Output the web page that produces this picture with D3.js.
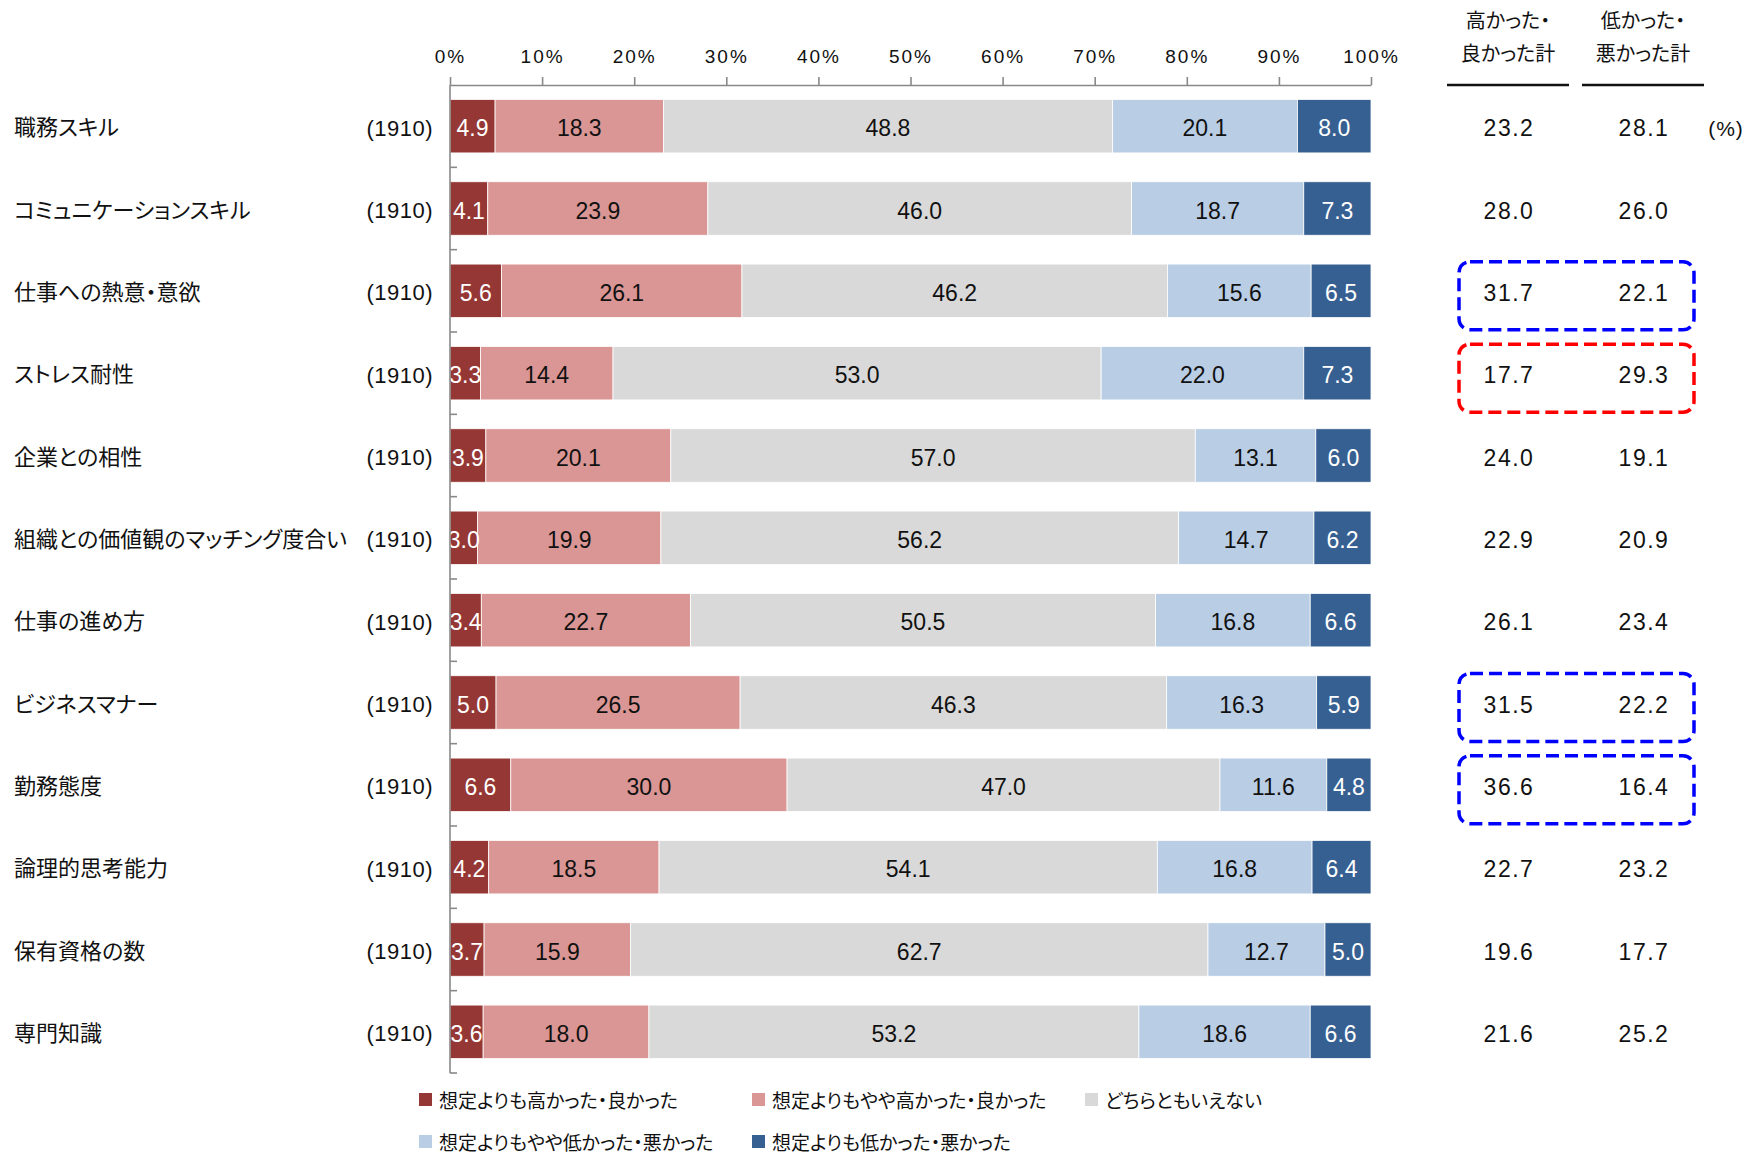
<!DOCTYPE html>
<html>
<head>
<meta charset="utf-8">
<script src="https://cdn.jsdelivr.net/npm/d3@7"></script>
<style>
  body { margin: 0; background: #fff; }
  svg text { font-family: "Liberation Sans", Arial, sans-serif; fill: #111; }
  svg text.jp { font-family: "Noto Sans CJK JP", sans-serif; font-feature-settings: "palt" 1; }
</style>
</head>
<body>
<svg id="chart" width="1746" height="1155"></svg>
<script>
// ---- data ----
const categories = [
  "職務スキル", "コミュニケーションスキル", "仕事への熱意・意欲", "ストレス耐性",
  "企業との相性", "組織との価値観のマッチング度合い", "仕事の進め方", "ビジネスマナー",
  "勤務態度", "論理的思考能力", "保有資格の数", "専門知識"
];
const sampleSizes = [1910, 1910, 1910, 1910, 1910, 1910, 1910, 1910, 1910, 1910, 1910, 1910];
const seriesNames = [
  "想定よりも高かった・良かった", "想定よりもやや高かった・良かった", "どちらともいえない",
  "想定よりもやや低かった・悪かった", "想定よりも低かった・悪かった"
];
const muchHigher   = [4.9, 4.1, 5.6, 3.3, 3.9, 3.0, 3.4, 5.0, 6.6, 4.2, 3.7, 3.6];
const higher       = [18.3, 23.9, 26.1, 14.4, 20.1, 19.9, 22.7, 26.5, 30.0, 18.5, 15.9, 18.0];
const neutral      = [48.8, 46.0, 46.2, 53.0, 57.0, 56.2, 50.5, 46.3, 47.0, 54.1, 62.7, 53.2];
const lower        = [20.1, 18.7, 15.6, 22.0, 13.1, 14.7, 16.8, 16.3, 11.6, 16.8, 12.7, 18.6];
const muchLower    = [8.0, 7.3, 6.5, 7.3, 6.0, 6.2, 6.6, 5.9, 4.8, 6.4, 5.0, 6.6];
const higherTotal  = [23.2, 28.0, 31.7, 17.7, 24.0, 22.9, 26.1, 31.5, 36.6, 22.7, 19.6, 21.6];
const lowerTotal   = [28.1, 26.0, 22.1, 29.3, 19.1, 20.9, 23.4, 22.2, 16.4, 23.2, 17.7, 25.2];
const tickLabels   = ["0%", "10%", "20%", "30%", "40%", "50%", "60%", "70%", "80%", "90%", "100%"];
const totalHeaders = [["高かった・", "良かった計"], ["低かった・", "悪かった計"]];
const highlighted  = [
  { row: "仕事への熱意・意欲", kind: "good" },
  { row: "ストレス耐性", kind: "bad" },
  { row: "ビジネスマナー", kind: "good" },
  { row: "勤務態度", kind: "good" }
];

// ---- styling ----
const colors = ["#953735", "#D99694", "#D9D9D9", "#B9CDE5", "#376092"];
const labelColors = ["#fff", "#111", "#111", "#111", "#fff"];
const boxColors = { good: "#0000FF", bad: "#FF0000" };
const axisColor = "#898989";
const textNudge = 2; // small downward shift so digits sit on the bar centre line

const series = [muchHigher, higher, neutral, lower, muchLower];
const keys = seriesNames.map((_, i) => "s" + i);
const rows = categories.map((c, r) => {
  const o = { category: c };
  series.forEach((s, i) => { o[keys[i]] = s[r]; });
  return o;
});

const svg = d3.select("#chart");

const x = d3.scaleLinear().domain([0, 1]).range([450, 1371]);
const y = d3.scaleBand().domain(categories).range([85, 1073])
  .paddingInner(0.35).paddingOuter(0.175);
const barMid = c => y(c) + y.bandwidth() / 2;
const rowMid = c => barMid(c) + textNudge;

const stacked = d3.stack().keys(keys).offset(d3.stackOffsetExpand)(rows);

// ---- bars ----
const layers = svg.append("g").selectAll("g")
  .data(stacked).join("g")
  .attr("fill", (d, i) => colors[i]);

layers.selectAll("rect")
  .data(d => d)
  .join("rect")
  .attr("x", d => x(d[0]))
  .attr("y", d => y(d.data.category))
  .attr("width", d => x(d[1]) - x(d[0]))
  .attr("height", y.bandwidth())
  .attr("stroke", "#fff")
  .attr("stroke-width", 0.8);

// ---- segment value labels ----
stacked.forEach((layer, i) => {
  svg.append("g").selectAll("text")
    .data(layer).join("text")
    .attr("x", d => (x(d[0]) + x(d[1])) / 2)
    .attr("y", d => rowMid(d.data.category))
    .attr("text-anchor", "middle")
    .attr("dominant-baseline", "central")
    .style("font-size", "23px")
    .style("fill", labelColors[i])
    .text(d => d.data[keys[i]].toFixed(1));
});

// ---- top percent axis ----
const topAxis = svg.append("g")
  .attr("transform", `translate(0,${y.range()[0]})`)
  .call(d3.axisTop(x)
    .tickValues(d3.range(0, 11).map(v => v / 10))
    .tickFormat((d, i) => tickLabels[i])
    .tickSize(8)
    .tickSizeOuter(0)
    .tickPadding(14));
topAxis.select(".domain").attr("stroke", axisColor).attr("stroke-width", 1.6);
topAxis.selectAll(".tick line").attr("stroke", axisColor).attr("stroke-width", 1.6);
topAxis.selectAll(".tick text")
  .style("font-size", "19px")
  .style("letter-spacing", "2px")
  .style("font-family", "'Liberation Sans', Arial, sans-serif")
  .attr("fill", "#111");

// ---- left category axis ----
const y0 = y.range()[0], y1 = y.range()[1];
const left = svg.append("g").attr("stroke", axisColor).attr("stroke-width", 1.6);
left.append("line").attr("x1", x(0)).attr("x2", x(0)).attr("y1", y0).attr("y2", y1);
const boundaries = d3.range(1, categories.length + 1).map(i => y0 + i * y.step());
left.selectAll("line.tk").data(boundaries).join("line")
  .attr("class", "tk")
  .attr("x1", x(0)).attr("x2", x(0) + 7)
  .attr("y1", d => d).attr("y2", d => d);

// ---- category names and sample sizes ----
svg.append("g").selectAll("text")
  .data(categories).join("text")
  .attr("class", "jp")
  .attr("x", 14)
  .attr("y", d => barMid(d) - 1)
  .attr("dominant-baseline", "central")
  .style("font-size", "22px")
  .text(d => d);

svg.append("g").selectAll("text")
  .data(categories).join("text")
  .attr("x", 433)
  .attr("y", d => rowMid(d))
  .attr("text-anchor", "end")
  .attr("dominant-baseline", "central")
  .style("font-size", "22px")
  .style("letter-spacing", "0.5px")
  .text((d, i) => `(${sampleSizes[i]})`);

// ---- totals columns ----
const colX = [1508, 1643];
const colHalf = 61;
totalHeaders.forEach((lines, c) => {
  lines.forEach((t, k) => {
    svg.append("text")
      .attr("class", "jp")
      .attr("x", colX[c])
      .attr("y", 19 + k * 33)
      .attr("text-anchor", "middle")
      .attr("dominant-baseline", "central")
      .style("font-size", "20px")
      .text(t);
  });
  svg.append("line")
    .attr("x1", colX[c] - colHalf).attr("x2", colX[c] + colHalf)
    .attr("y1", 85).attr("y2", 85)
    .attr("stroke", "#111").attr("stroke-width", 2.5);
});

[higherTotal, lowerTotal].forEach((vals, c) => {
  svg.append("g").selectAll("text")
    .data(vals).join("text")
    .attr("x", colX[c] + 1)
    .attr("y", (d, i) => rowMid(categories[i]))
    .attr("text-anchor", "middle")
    .attr("dominant-baseline", "central")
    .style("font-size", "23px")
    .style("letter-spacing", "1.5px")
    .text(d => d.toFixed(1));
});

svg.append("text")
  .attr("x", 1726)
  .attr("y", rowMid(categories[0]))
  .attr("text-anchor", "middle")
  .attr("dominant-baseline", "central")
  .style("font-size", "21px")
  .style("letter-spacing", "1px")
  .text("(%)");

// ---- highlight boxes around the totals ----
svg.append("g").selectAll("rect")
  .data(highlighted).join("rect")
  .attr("x", 1459)
  .attr("width", 235)
  .attr("y", d => barMid(d.row) - 29)
  .attr("height", 68)
  .attr("rx", 11)
  .attr("fill", "none")
  .attr("stroke", d => boxColors[d.kind])
  .attr("stroke-width", 3.5)
  .attr("stroke-dasharray", "13 6");

// ---- legend ----
const legendCols = [419, 752, 1085];
const legendRows = [1099, 1141];
const legend = svg.append("g").selectAll("g")
  .data(seriesNames).join("g")
  .attr("transform", (d, i) => `translate(${legendCols[i % 3]},${legendRows[Math.floor(i / 3)]})`);
legend.append("rect")
  .attr("x", 0).attr("y", -6)
  .attr("width", 13).attr("height", 13)
  .attr("fill", (d, i) => colors[i]);
legend.append("text")
  .attr("class", "jp")
  .attr("x", 20)
  .attr("y", 0)
  .attr("dominant-baseline", "central")
  .style("font-size", "19px")
  .text(d => d);
</script>
</body>
</html>
